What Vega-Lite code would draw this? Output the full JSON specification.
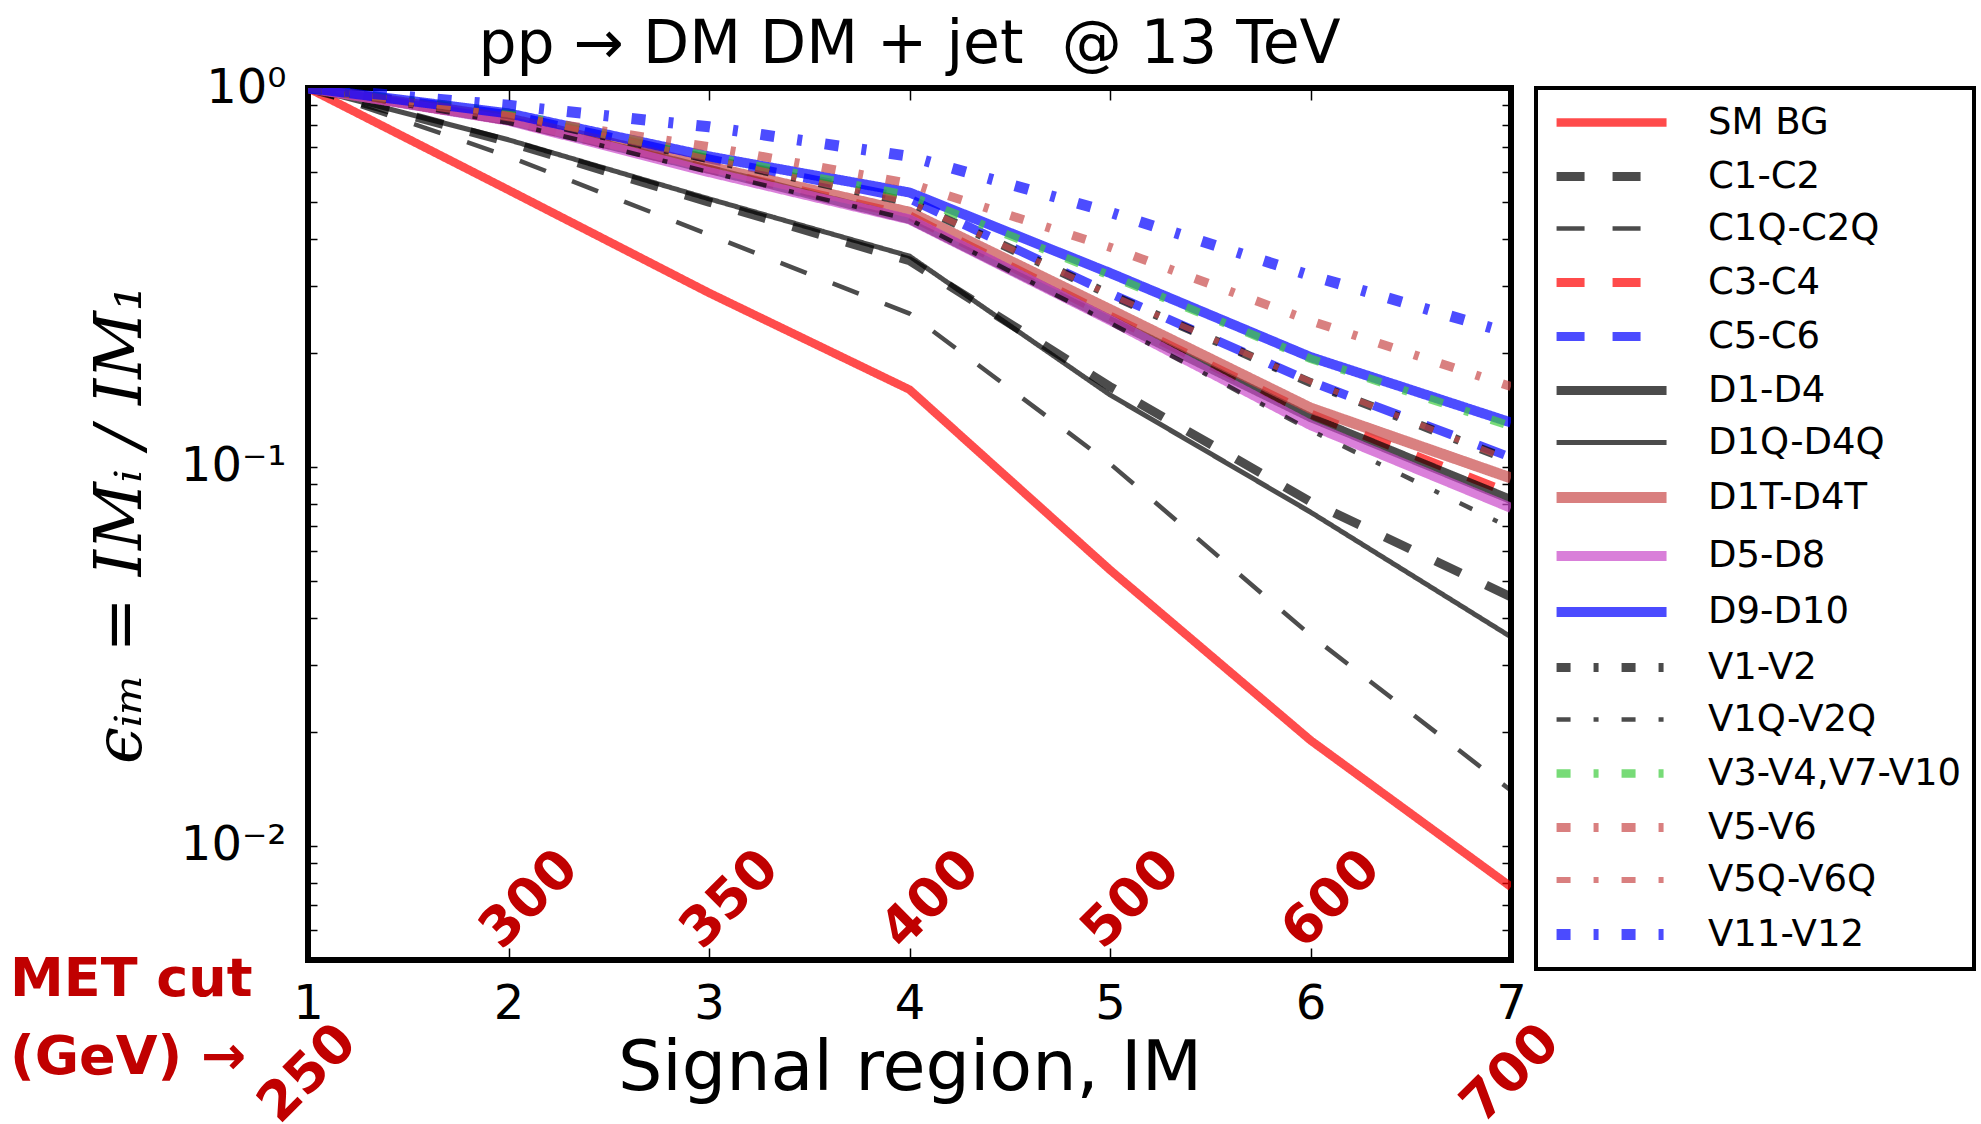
{
  "$schema": "https://vega.github.io/schema/vega-lite/v6.json",
  "width": 1203,
  "height": 872,
  "autosize": "none",
  "padding": {"left": 308, "top": 88, "right": 470, "bottom": 164},
  "background": "white",
  "title": {"text": "pp → DM DM + jet \u00a0@ 13 TeV", "fontSize": 60, "font": "DejaVu Sans", "fontWeight": "normal", "offset": -12, "anchor": "middle", "color": "black"},
  "config": {
    "view": {"stroke": "black", "strokeWidth": 6},
    "axis": {"grid": false, "domain": false, "tickColor": "black", "tickWidth": 1.5, "labelColor": "black", "titleColor": "black", "labelFont": "DejaVu Sans", "titleFont": "DejaVu Sans", "titleFontWeight": "normal"},
    "legend": {"strokeColor": "black", "strokeWidth": 4, "fillColor": "white"}
  },
  "datasets": {
    "curves": [
      {"series": "SM BG", "im": 1, "eff": 1}, {"series": "SM BG", "im": 2, "eff": 0.538}, {"series": "SM BG", "im": 3, "eff": 0.288}, {"series": "SM BG", "im": 4, "eff": 0.16}, {"series": "SM BG", "im": 5, "eff": 0.0535}, {"series": "SM BG", "im": 6, "eff": 0.019}, {"series": "SM BG", "im": 7, "eff": 0.0078},
      {"series": "C1-C2", "im": 1, "eff": 1}, {"series": "C1-C2", "im": 2, "eff": 0.72}, {"series": "C1-C2", "im": 3, "eff": 0.5}, {"series": "C1-C2", "im": 4, "eff": 0.35}, {"series": "C1-C2", "im": 5, "eff": 0.163}, {"series": "C1-C2", "im": 6, "eff": 0.081}, {"series": "C1-C2", "im": 7, "eff": 0.0454},
      {"series": "C1Q-C2Q", "im": 1, "eff": 1}, {"series": "C1Q-C2Q", "im": 2, "eff": 0.66}, {"series": "C1Q-C2Q", "im": 3, "eff": 0.41}, {"series": "C1Q-C2Q", "im": 4, "eff": 0.254}, {"series": "C1Q-C2Q", "im": 5, "eff": 0.102}, {"series": "C1Q-C2Q", "im": 6, "eff": 0.036}, {"series": "C1Q-C2Q", "im": 7, "eff": 0.014},
      {"series": "C3-C4", "im": 1, "eff": 1}, {"series": "C3-C4", "im": 2, "eff": 0.82}, {"series": "C3-C4", "im": 3, "eff": 0.61}, {"series": "C3-C4", "im": 4, "eff": 0.46}, {"series": "C3-C4", "im": 5, "eff": 0.25}, {"series": "C3-C4", "im": 6, "eff": 0.138}, {"series": "C3-C4", "im": 7, "eff": 0.085},
      {"series": "C5-C6", "im": 1, "eff": 1}, {"series": "C5-C6", "im": 2, "eff": 0.85}, {"series": "C5-C6", "im": 3, "eff": 0.65}, {"series": "C5-C6", "im": 4, "eff": 0.51}, {"series": "C5-C6", "im": 5, "eff": 0.287}, {"series": "C5-C6", "im": 6, "eff": 0.168}, {"series": "C5-C6", "im": 7, "eff": 0.106},
      {"series": "D1-D4", "im": 1, "eff": 1}, {"series": "D1-D4", "im": 2, "eff": 0.82}, {"series": "D1-D4", "im": 3, "eff": 0.61}, {"series": "D1-D4", "im": 4, "eff": 0.45}, {"series": "D1-D4", "im": 5, "eff": 0.245}, {"series": "D1-D4", "im": 6, "eff": 0.135}, {"series": "D1-D4", "im": 7, "eff": 0.082},
      {"series": "D1Q-D4Q", "im": 1, "eff": 1}, {"series": "D1Q-D4Q", "im": 2, "eff": 0.73}, {"series": "D1Q-D4Q", "im": 3, "eff": 0.51}, {"series": "D1Q-D4Q", "im": 4, "eff": 0.36}, {"series": "D1Q-D4Q", "im": 5, "eff": 0.155}, {"series": "D1Q-D4Q", "im": 6, "eff": 0.076}, {"series": "D1Q-D4Q", "im": 7, "eff": 0.0356},
      {"series": "D1T-D4T", "im": 1, "eff": 1}, {"series": "D1T-D4T", "im": 2, "eff": 0.83}, {"series": "D1T-D4T", "im": 3, "eff": 0.62}, {"series": "D1T-D4T", "im": 4, "eff": 0.47}, {"series": "D1T-D4T", "im": 5, "eff": 0.26}, {"series": "D1T-D4T", "im": 6, "eff": 0.143}, {"series": "D1T-D4T", "im": 7, "eff": 0.0935},
      {"series": "D5-D8", "im": 1, "eff": 1}, {"series": "D5-D8", "im": 2, "eff": 0.82}, {"series": "D5-D8", "im": 3, "eff": 0.6}, {"series": "D5-D8", "im": 4, "eff": 0.45}, {"series": "D5-D8", "im": 5, "eff": 0.244}, {"series": "D5-D8", "im": 6, "eff": 0.129}, {"series": "D5-D8", "im": 7, "eff": 0.078},
      {"series": "D9-D10", "im": 1, "eff": 1}, {"series": "D9-D10", "im": 2, "eff": 0.857}, {"series": "D9-D10", "im": 3, "eff": 0.66}, {"series": "D9-D10", "im": 4, "eff": 0.53}, {"series": "D9-D10", "im": 5, "eff": 0.325}, {"series": "D9-D10", "im": 6, "eff": 0.195}, {"series": "D9-D10", "im": 7, "eff": 0.131},
      {"series": "V1-V2", "im": 1, "eff": 1}, {"series": "V1-V2", "im": 2, "eff": 0.85}, {"series": "V1-V2", "im": 3, "eff": 0.65}, {"series": "V1-V2", "im": 4, "eff": 0.5}, {"series": "V1-V2", "im": 5, "eff": 0.285}, {"series": "V1-V2", "im": 6, "eff": 0.167}, {"series": "V1-V2", "im": 7, "eff": 0.104},
      {"series": "V1Q-V2Q", "im": 1, "eff": 1}, {"series": "V1Q-V2Q", "im": 2, "eff": 0.81}, {"series": "V1Q-V2Q", "im": 3, "eff": 0.6}, {"series": "V1Q-V2Q", "im": 4, "eff": 0.45}, {"series": "V1Q-V2Q", "im": 5, "eff": 0.24}, {"series": "V1Q-V2Q", "im": 6, "eff": 0.125}, {"series": "V1Q-V2Q", "im": 7, "eff": 0.069},
      {"series": "V3-V4,V7-V10", "im": 1, "eff": 1}, {"series": "V3-V4,V7-V10", "im": 2, "eff": 0.86}, {"series": "V3-V4,V7-V10", "im": 3, "eff": 0.66}, {"series": "V3-V4,V7-V10", "im": 4, "eff": 0.52}, {"series": "V3-V4,V7-V10", "im": 5, "eff": 0.32}, {"series": "V3-V4,V7-V10", "im": 6, "eff": 0.193}, {"series": "V3-V4,V7-V10", "im": 7, "eff": 0.128},
      {"series": "V5-V6", "im": 1, "eff": 1}, {"series": "V5-V6", "im": 2, "eff": 0.84}, {"series": "V5-V6", "im": 3, "eff": 0.7}, {"series": "V5-V6", "im": 4, "eff": 0.56}, {"series": "V5-V6", "im": 5, "eff": 0.38}, {"series": "V5-V6", "im": 6, "eff": 0.243}, {"series": "V5-V6", "im": 7, "eff": 0.163},
      {"series": "V5Q-V6Q", "im": 1, "eff": 1}, {"series": "V5Q-V6Q", "im": 2, "eff": 0.85}, {"series": "V5Q-V6Q", "im": 3, "eff": 0.65}, {"series": "V5Q-V6Q", "im": 4, "eff": 0.5}, {"series": "V5Q-V6Q", "im": 5, "eff": 0.285}, {"series": "V5Q-V6Q", "im": 6, "eff": 0.168}, {"series": "V5Q-V6Q", "im": 7, "eff": 0.104},
      {"series": "V11-V12", "im": 1, "eff": 1}, {"series": "V11-V12", "im": 2, "eff": 0.9}, {"series": "V11-V12", "im": 3, "eff": 0.79}, {"series": "V11-V12", "im": 4, "eff": 0.66}, {"series": "V11-V12", "im": 5, "eff": 0.47}, {"series": "V11-V12", "im": 6, "eff": 0.32}, {"series": "V11-V12", "im": 7, "eff": 0.225}
    ]
  },
  "layer": [
    {
      "data": {"name": "curves"},
      "mark": {"type": "line", "opacity": 0.7, "clip": true},
      "encoding": {
        "x": {"field": "im", "type": "quantitative", "scale": {"domain": [1, 7], "nice": false, "zero": false},
          "axis": {"orient": "bottom", "values": [1, 2, 3, 4, 5, 6, 7], "format": "d", "title": "Signal region, IM", "titleFontSize": 70, "labelFontSize": 48, "tickSize": -12, "labelPadding": 32, "titlePadding": 6, "labelFlush": false}},
        "y": {"field": "eff", "type": "quantitative", "scale": {"type": "log", "domain": [0.005, 1], "nice": false},
          "axis": {"orient": "left", "values": [1, 0.9, 0.8, 0.7, 0.6, 0.5, 0.4, 0.3, 0.2, 0.1, 0.09, 0.08, 0.07, 0.06, 0.05, 0.04, 0.03, 0.02, 0.01, 0.009, 0.008, 0.007, 0.006],
            "labelExpr": "datum.value == 1 ? '10⁰' : datum.value == 0.1 ? '10⁻¹' : datum.value == 0.01 ? '10⁻²' : ''",
            "labelOverlap": false, "labelFlush": false, "labelFontSize": 48, "tickSize": -9, "labelPadding": 31,
            "title": "ϵᵢₘ = IMᵢ / IM₁", "titleFont": "DejaVu Serif", "titleFontStyle": "italic", "titleFontSize": 66, "titlePadding": 26}},
        "color": {"field": "series", "type": "nominal",
          "scale": {"domain": ["SM BG", "C1-C2", "C1Q-C2Q", "C3-C4", "C5-C6", "D1-D4", "D1Q-D4Q", "D1T-D4T", "D5-D8", "D9-D10", "V1-V2", "V1Q-V2Q", "V3-V4,V7-V10", "V5-V6", "V5Q-V6Q", "V11-V12"],
            "range": ["#ff0000", "#000000", "#000000", "#ff0000", "#0000ff", "#000000", "#000000", "#c94a4a", "#ca4aca", "#0000ff", "#000000", "#000000", "#3ecd3e", "#c94a4a", "#c94a4a", "#0000ff"]},
          "legend": {"title": null, "orient": "right", "offset": 24, "padding": 12, "rowPadding": 13, "symbolType": "M-0.83,0H5.28", "symbolSize": 1296, "symbolOpacity": 0.7, "labelFont": "DejaVu Sans", "labelFontSize": 37, "labelOffset": 113, "labelLimit": 400, "labelColor": "black"}},
        "strokeDash": {"field": "series", "type": "nominal",
          "scale": {"domain": ["SM BG", "C1-C2", "C1Q-C2Q", "C3-C4", "C5-C6", "D1-D4", "D1Q-D4Q", "D1T-D4T", "D5-D8", "D9-D10", "V1-V2", "V1Q-V2Q", "V3-V4,V7-V10", "V5-V6", "V5Q-V6Q", "V11-V12"],
            "range": [[1, 0], [28, 28], [28, 28], [28, 28], [28, 28], [1, 0], [1, 0], [1, 0], [1, 0], [1, 0], [14, 23, 5, 23], [14, 23, 5, 23], [14, 23, 5, 23], [14, 23, 5, 23], [14, 23, 5, 23], [14, 23, 5, 23]]},
          "legend": {"title": null}},
        "strokeWidth": {"field": "series", "type": "nominal",
          "scale": {"type": "ordinal", "domain": ["SM BG", "C1-C2", "C1Q-C2Q", "C3-C4", "C5-C6", "D1-D4", "D1Q-D4Q", "D1T-D4T", "D5-D8", "D9-D10", "V1-V2", "V1Q-V2Q", "V3-V4,V7-V10", "V5-V6", "V5Q-V6Q", "V11-V12"],
            "range": [8.5, 9, 4.5, 9, 9, 9, 5, 11, 10, 10, 9, 4.5, 8.5, 9, 6, 11]},
          "legend": {"title": null}}
      }
    },
    {
      "data": {"values": [{"im": 2, "met": "300"}, {"im": 3, "met": "350"}, {"im": 4, "met": "400"}, {"im": 5, "met": "500"}, {"im": 6, "met": "600"}]},
      "mark": {"type": "text", "angle": 315, "font": "DejaVu Sans", "fontWeight": "bold", "fontSize": 54, "color": "#c00000", "align": "center", "baseline": "middle", "dx": 15, "dy": 15},
      "encoding": {
        "x": {"field": "im", "type": "quantitative", "axis": {"orient": "top", "values": [1, 2, 3, 4, 5, 6, 7], "labels": false, "tickSize": -12, "title": null}},
        "y": {"datum": 0.00721, "type": "quantitative", "axis": {"orient": "right", "values": [1, 0.9, 0.8, 0.7, 0.6, 0.5, 0.4, 0.3, 0.2, 0.1, 0.09, 0.08, 0.07, 0.06, 0.05, 0.04, 0.03, 0.02, 0.01, 0.009, 0.008, 0.007, 0.006], "labels": false, "tickSize": -9, "title": null}},
        "text": {"field": "met", "type": "nominal"}
      }
    },
    {
      "data": {"values": [{"im": 1, "met": "250"}, {"im": 7, "met": "700"}]},
      "mark": {"type": "text", "angle": 315, "font": "DejaVu Sans", "fontWeight": "bold", "fontSize": 54, "color": "#c00000", "align": "center", "baseline": "middle", "clip": false},
      "encoding": {
        "x": {"field": "im", "type": "quantitative", "axis": null},
        "y": {"datum": 0.0025, "type": "quantitative", "axis": null},
        "text": {"field": "met", "type": "nominal"}
      }
    },
    {
      "data": {"values": [{"note": "MET cut"}]},
      "mark": {"type": "text", "font": "DejaVu Sans", "fontWeight": "bold", "fontSize": 54, "color": "#c00000", "align": "left", "baseline": "middle", "lineHeight": 78, "clip": false},
      "encoding": {
        "x": {"datum": -0.486, "type": "quantitative", "axis": null},
        "y": {"datum": 0.00443, "type": "quantitative", "axis": null},
        "text": {"value": ["MET cut", "(GeV) →"]}
      }
    }
  ],
  "resolve": {"axis": {"x": "independent", "y": "independent"}}
}
